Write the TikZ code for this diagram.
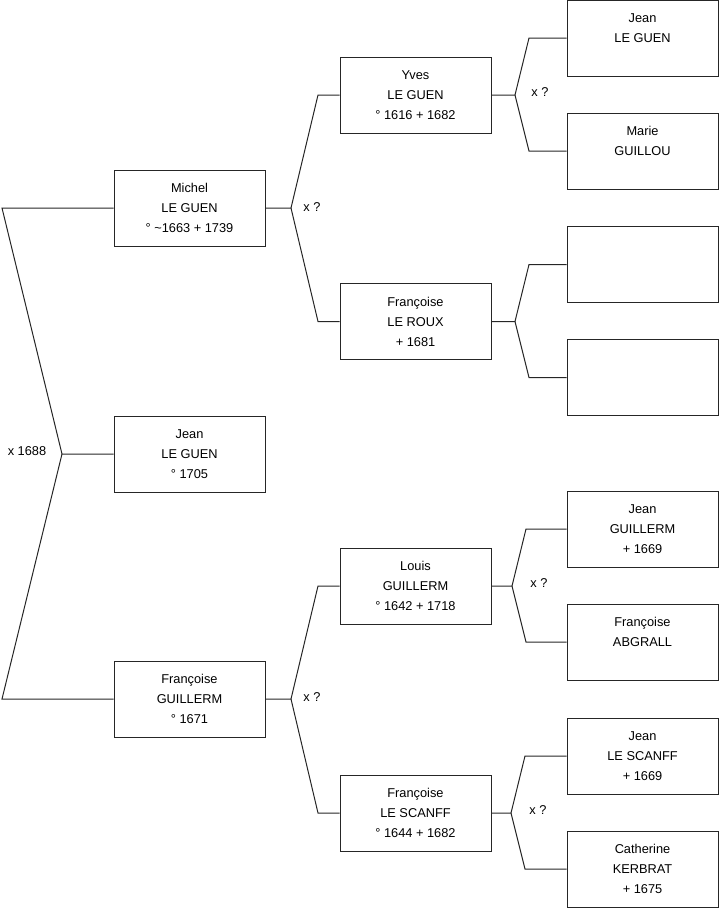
\documentclass[tikz,border=0pt]{standalone}
\usepackage{fontspec}
\setmainfont{Liberation Sans}
\begin{document}
\begin{tikzpicture}[x=1pt,y=-1pt,
	personne/.style={draw=black!85, line width=1pt, minimum width=151pt, minimum height=76pt,
		align=center, inner sep=0pt, font=\fontsize{12.8}{20}\selectfont},
	lien/.style={draw=black!85, line width=1pt},
	union/.style={font=\fontsize{12.8}{14}\selectfont, inner sep=0pt}]

	\useasboundingbox (0,0) rectangle (719,908);

	% Enfant et parents
	\node[personne] (jean) at (189.5,454) {Jean\\LE GUEN\\° 1705};
	\node[personne] (michel) at (189.5,208) {Michel\\LE GUEN\\° \textasciitilde1663 + 1739};
	\node[personne] (francoiseG) at (189.5,699) {Françoise\\GUILLERM\\° 1671};

	% Grands-parents
	\node[personne] (yves) at (415.5,95) {Yves\\LE GUEN\\° 1616 + 1682};
	\node[personne] (francoiseR) at (415.5,321.5) {Françoise\\LE ROUX\\+ 1681};
	\node[personne] (louis) at (415.5,586) {Louis\\GUILLERM\\° 1642 + 1718};
	\node[personne] (francoiseS) at (415.5,813) {Françoise\\LE SCANFF\\° 1644 + 1682};

	% Arriere-grands-parents
	\node[personne] (jeanG) at (642.5,38) {Jean\\LE GUEN\\~};
	\node[personne] (marie) at (642.5,151) {Marie\\GUILLOU\\~};
	\node[personne] (inconnuA) at (642.5,264.5) {};
	\node[personne] (inconnuB) at (642.5,377.5) {};
	\node[personne] (jeanGu) at (642.5,529) {Jean\\GUILLERM\\+ 1669};
	\node[personne] (francoiseA) at (642.5,642) {Françoise\\ABGRALL\\~};
	\node[personne] (jeanS) at (642.5,756) {Jean\\LE SCANFF\\+ 1669};
	\node[personne] (catherine) at (642.5,869) {Catherine\\KERBRAT\\+ 1675};

	% Fourches
	\coordinate (f0) at (62,454);
	\coordinate (f0a) at (2,208);
	\coordinate (f0b) at (2,699);
	\coordinate (f1) at (291,208);
	\coordinate (f1a) at (318,95);
	\coordinate (f1b) at (318,321.5);
	\coordinate (f2) at (291,699);
	\coordinate (f2a) at (318,586);
	\coordinate (f2b) at (318,813);
	\coordinate (f3) at (515,95);
	\coordinate (f3a) at (529,38);
	\coordinate (f3b) at (529,151);
	\coordinate (f4) at (515,321.5);
	\coordinate (f4a) at (529,264.5);
	\coordinate (f4b) at (529,377.5);
	\coordinate (f5) at (512,586);
	\coordinate (f5a) at (526,529);
	\coordinate (f5b) at (526,642);
	\coordinate (f6) at (511,813);
	\coordinate (f6a) at (525,756);
	\coordinate (f6b) at (525,869);

	\draw[lien] (jean.west) -- (f0) -- (f0a) -- (michel.west);
	\draw[lien] (f0) -- (f0b) -- (francoiseG.west);
	\draw[lien] (michel.east) -- (f1) -- (f1a) -- (yves.west);
	\draw[lien] (f1) -- (f1b) -- (francoiseR.west);
	\draw[lien] (francoiseG.east) -- (f2) -- (f2a) -- (louis.west);
	\draw[lien] (f2) -- (f2b) -- (francoiseS.west);
	\draw[lien] (yves.east) -- (f3) -- (f3a) -- (jeanG.west);
	\draw[lien] (f3) -- (f3b) -- (marie.west);
	\draw[lien] (francoiseR.east) -- (f4) -- (f4a) -- (inconnuA.west);
	\draw[lien] (f4) -- (f4b) -- (inconnuB.west);
	\draw[lien] (louis.east) -- (f5) -- (f5a) -- (jeanGu.west);
	\draw[lien] (f5) -- (f5b) -- (francoiseA.west);
	\draw[lien] (francoiseS.east) -- (f6) -- (f6a) -- (jeanS.west);
	\draw[lien] (f6) -- (f6b) -- (catherine.west);

	% Mariages
	\node[union] (m0) at (27,451) {x 1688};
	\node[union] (m1) at (312,207) {x ?};
	\node[union] (m2) at (312,697) {x ?};
	\node[union] (m3) at (540,92) {x ?};
	\node[union] (m4) at (539,583) {x ?};
	\node[union] (m5) at (538,810) {x ?};

\end{tikzpicture}
\end{document}
